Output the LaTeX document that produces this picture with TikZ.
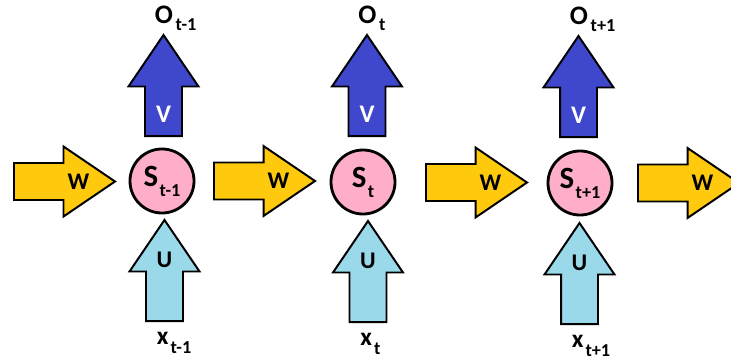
\documentclass[tikz,border=0pt]{standalone}
\usepackage{fontspec}
\setmainfont{Carlito}
\usetikzlibrary{shapes.arrows,positioning,calc}
\definecolor{wyellow}{HTML}{FFC90E}
\definecolor{vblue}{HTML}{3F48CC}
\definecolor{ublue}{HTML}{99D9EA}
\definecolor{spink}{HTML}{FFAEC9}
\newcommand{\dn}[3]{\raisebox{-#1}{\fontsize{#2}{#2}\selectfont #3}}

\begin{document}
\begin{tikzpicture}[x=0.025cm,y=-0.025cm,
  blockarrow/.style={single arrow,draw=black,line width=1.4pt,minimum height=2.525cm,single arrow head extend=0.4125cm,single arrow tip angle=68.4,anchor=tail},
  warrow/.style={blockarrow,fill=wyellow,inner xsep=0pt,inner ysep=0.4375cm},
  varrow/.style={blockarrow,fill=vblue,shape border rotate=90,inner xsep=0.4375cm,inner ysep=0pt},
  uarrow/.style={blockarrow,fill=ublue,shape border rotate=90,inner xsep=0.4375cm,inner ysep=0pt},
  state/.style={circle,draw=black,line width=2pt,fill=spink,minimum size=1.6cm,inner sep=0pt,font=\bfseries\fontsize{22}{24}\selectfont},
  wlbl/.style={inner sep=0pt,font=\bfseries\fontsize{17}{19}\selectfont},
  vlbl/.style={inner sep=0pt,text=white,font=\bfseries\fontsize{18}{20}\selectfont},
  olbl/.style={inner sep=0pt,anchor=base west,font=\bfseries\fontsize{19}{21}\selectfont},
  xlbl/.style={inner sep=0pt,anchor=base west,font=\bfseries\fontsize{18}{20}\selectfont}]
  \useasboundingbox (0,0) rectangle (731,362);
  % states
  \node[state] (s1) at (162,181) {S\hspace{1pt}\dn{7pt}{13pt}{t-1}};
  \node[state] (s2) at (363,182) {S\hspace{1pt}\dn{7pt}{13pt}{t}};
  \node[state] (s3) at (580,183) {S\hspace{1pt}\dn{7pt}{13pt}{t+1}};
  % W arrows
  \node[warrow] (w1) at (13,181.5) {};
  \node[warrow] (w2) at (213,181) {};
  \node[warrow] (w3) at (425,182.5) {};
  \node[warrow] (w4) at (637,183) {};
  \node[wlbl] (lw1) at ($(w1.tail)!0.63!(w1.tip)$) {W};
  \node[wlbl] (lw2) at ($(w2.tail)!0.63!(w2.tip)$) {W};
  \node[wlbl] (lw3) at ($(w3.tail)!0.63!(w3.tip)$) {W};
  \node[wlbl] (lw4) at ($(w4.tail)!0.63!(w4.tip)$) {W};
  % V arrows
  \node[varrow] (v1) at (163.5,137) {};
  \node[varrow] (v2) at (367,137) {};
  \node[varrow] (v3) at (578.5,138) {};
  \node[vlbl] (lv1) at ($(v1.tail)!0.22!(v1.tip)$) {V};
  \node[vlbl] (lv2) at ($(v2.tail)!0.22!(v2.tip)$) {V};
  \node[vlbl] (lv3) at ($(v3.tail)!0.22!(v3.tip)$) {V};
  % U arrows
  \node[uarrow] (u1) at (164.5,322) {};
  \node[uarrow] (u2) at (368,323) {};
  \node[uarrow] (u3) at (579.5,325) {};
  \node[wlbl] (lu1) at ($(u1.tail)!0.6!(u1.tip)$) {U};
  \node[wlbl] (lu2) at ($(u2.tail)!0.6!(u2.tip)$) {U};
  \node[wlbl] (lu3) at ($(u3.tail)!0.6!(u3.tip)$) {U};
  % outputs and inputs
  \node[olbl] (o1) at ($(v1.tip)+(-9,-10)$) {O\hspace{2pt}\dn{5pt}{13pt}{t-1}};
  \node[olbl] (o2) at ($(v2.tip)+(-9,-10)$) {O\hspace{2pt}\dn{5pt}{13pt}{t}};
  \node[olbl] (o3) at ($(v3.tip)+(-9,-10)$) {O\hspace{2pt}\dn{5pt}{13pt}{t+1}};
  \node[xlbl] (x1) at ($(u1.tail)+(-8,22)$) {x\hspace{1.5pt}\dn{6.4pt}{13pt}{t-1}};
  \node[xlbl] (x2) at ($(u2.tail)+(-8,22)$) {x\hspace{1.5pt}\dn{6.4pt}{13pt}{t}};
  \node[xlbl] (x3) at ($(u3.tail)+(-8,22)$) {x\hspace{1.5pt}\dn{6.4pt}{13pt}{t+1}};
\end{tikzpicture}
\end{document}
